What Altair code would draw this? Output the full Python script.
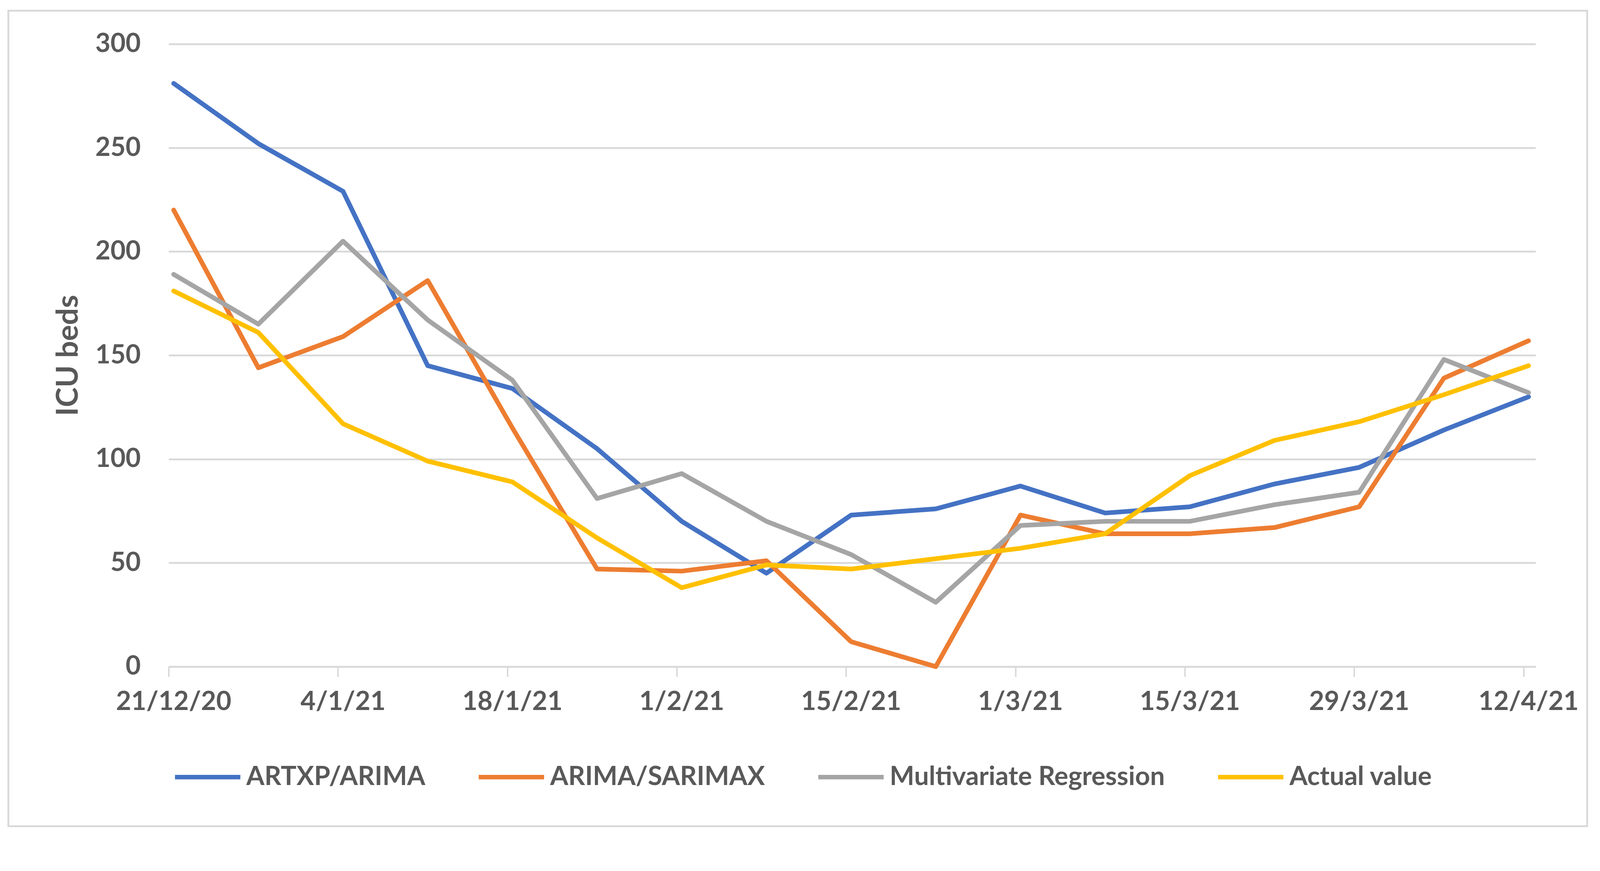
import altair as alt
import pandas as pd

dates = ["2020-12-21", "2020-12-28", "2021-01-04", "2021-01-11", "2021-01-18",
         "2021-01-25", "2021-02-01", "2021-02-08", "2021-02-15", "2021-02-22",
         "2021-03-01", "2021-03-08", "2021-03-15", "2021-03-22", "2021-03-29",
         "2021-04-05", "2021-04-12"]

artxp_arima = [281, 252, 229, 145, 134, 105, 70, 45, 73, 76, 87, 74, 77, 88, 96, 114, 130]
arima_sarimax = [220, 144, 159, 186, 115, 47, 46, 51, 12, 0, 73, 64, 64, 67, 77, 139, 157]
multivariate = [189, 165, 205, 167, 138, 81, 93, 70, 54, 31, 68, 70, 70, 78, 84, 148, 132]
actual = [181, 161, 117, 99, 89, 62, 38, 49, 47, 52, 57, 64, 92, 109, 118, 131, 145]

series_names = ["ARTXP/ARIMA", "ARIMA/SARIMAX", "Multivariate Regression", "Actual value"]
series_values = [artxp_arima, arima_sarimax, multivariate, actual]
series_colors = ["#4472C4", "#ED7D31", "#A5A5A5", "#FFC000"]

tick_dates = [(2020, 12, 21), (2021, 1, 4), (2021, 1, 18), (2021, 2, 1), (2021, 2, 15),
              (2021, 3, 1), (2021, 3, 15), (2021, 3, 29), (2021, 4, 12)]

rows = []
for name, vals in zip(series_names, series_values):
    for d, v in zip(dates, vals):
        rows.append({"date": d + "T10:00:00", "series": name, "value": v})
df = pd.DataFrame(rows)

FONT = "Lato"
TXT = "#595959"
GRID = "#D9D9D9"

W, H = 3659, 1666

lines = alt.Chart(df).mark_line(strokeWidth=12.5, strokeCap="round", strokeJoin="round").encode(
    x=alt.X(
        "date:T",
        scale=alt.Scale(domain=[alt.DateTime(year=2020, month=12, date=21),
                                alt.DateTime(year=2021, month=4, date=13)]),
        axis=alt.Axis(
            title=None,
            values=[alt.DateTime(year=y, month=m, date=d) for (y, m, d) in tick_dates],
            format="%-d/%-m/%y",
            grid=False,
            domain=True, domainColor=GRID, domainWidth=5,
            ticks=True, tickColor=GRID, tickWidth=4, tickSize=27,
            labelFont=FONT, labelFontWeight="bold", labelFontSize=70, labelColor=TXT,
            labelPadding=34, labelOffset=13, labelFlush=False, labelOverlap=False,
            labelLimit=1000,
        ),
    ),
    y=alt.Y(
        "value:Q",
        scale=alt.Scale(domain=[0, 300]),
        axis=alt.Axis(
            title="ICU beds",
            values=[0, 50, 100, 150, 200, 250, 300],
            grid=True, gridColor=GRID, gridWidth=5,
            domain=False, ticks=False,
            labelFont=FONT, labelFontWeight="bold", labelFontSize=70, labelColor=TXT,
            labelPadding=75,
            titleFont=FONT, titleFontWeight="bold", titleFontSize=80, titleColor=TXT,
            titleX=-268, titleBaseline="middle",
        ),
    ),
    color=alt.Color(
        "series:N",
        scale=alt.Scale(domain=series_names, range=series_colors),
        sort=series_names,
        legend=alt.Legend(
            title=None, orient="none", direction="horizontal",
            legendX=11, legendY=1868,
            symbolType="stroke", symbolSize=30625, symbolStrokeWidth=12,
            labelFont=FONT, labelFontWeight="bold", labelFontSize=70, labelColor=TXT,
            labelOffset=10, labelLimit=2000, columnPadding=118, padding=0,
        ),
    ),
    detail="series:N",
)

frame = alt.Chart(pd.DataFrame({"frame": [0]})).mark_rect(
    filled=False, stroke=GRID, strokeWidth=5
).encode(
    x=alt.value(-429), x2=alt.value(3797), y=alt.value(-89), y2=alt.value(2093)
)

chart = alt.layer(frame, lines).properties(
    width=W, height=H,
    padding={"left": 443, "top": 60, "right": 164, "bottom": 438},
    autosize=alt.AutoSizeParams(type="none"),
    background="white",
).configure_view(stroke=None)

chart.save("out.html", embed_options={"renderer": "svg", "actions": False})
